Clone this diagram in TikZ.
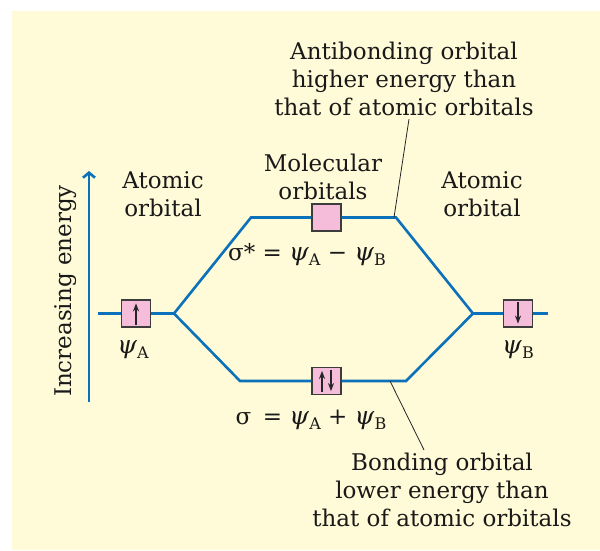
\documentclass[tikz,border=0pt]{standalone}
\usepackage{fontspec}
\setmainfont{DejaVu Serif}
\usetikzlibrary{positioning,arrows.meta}
\definecolor{MOBlue}{HTML}{0A71BA}
\definecolor{MOPink}{HTML}{F5BDD9}
\definecolor{MOPaper}{HTML}{FFFAD7}
\definecolor{MOEdge}{HTML}{3C3C3C}
\newcommand{\orbsub}[1]{\raisebox{-0.4ex}{\fontsize{16}{16}\selectfont #1}}
\newcommand{\orbpsi}{{\fontsize{25}{28}\selectfont\textit{ψ}}}
\begin{document}
\begin{tikzpicture}[x=1pt,y=-1pt,>=stealth,node distance=12pt]
  \tikzstyle{obox}=[draw=MOEdge,fill=MOPink,line width=1.2pt,inner sep=0pt,
    minimum width=29pt,minimum height=27pt]
  \tikzstyle{orbline}=[draw=MOBlue,line width=2.6pt]
  \tikzstyle{spin}=[-{Stealth[length=8pt,width=6pt]},line width=1.4pt,draw=black!85]
  \tikzstyle{lbl}=[font=\fontsize{23}{28}\selectfont,align=center,
    text=black!90,inner sep=0pt]
  \tikzstyle{lead}=[draw=black!85,line width=0.8pt]
  \useasboundingbox (0,0) rectangle (600,550);
  \fill[MOPaper] (12,11) rectangle (600,550);
  % energy axis
  \coordinate (eb) at (89,402);
  \coordinate (et) at (89,171);
  \draw[orbline,-{Straight Barb[length=5pt,width=12pt]}] (eb) -- (et);
  \node[lbl,rotate=90] (en) at (66,291) {Increasing energy};
  % orbital boxes
  \node[obox] (a) at (136,313.5) {};
  \node[obox] (s) at (326.5,217.5) {};
  \node[obox] (bo) at (326.5,381) {};
  \node[obox] (b) at (518,313.5) {};
  \draw[spin] ([yshift=3pt]a.south) -- ([yshift=-4pt]a.north);
  \draw[spin] ([xshift=-4.5pt,yshift=3pt]bo.south) -- ([xshift=-4.5pt,yshift=-4pt]bo.north);
  \draw[spin] ([xshift=4.5pt,yshift=-3pt]bo.north) -- ([xshift=4.5pt,yshift=4pt]bo.south);
  \draw[spin] ([yshift=-3pt]b.north) -- ([yshift=4pt]b.south);
  % energy levels
  \coordinate (la) at (98,313.5);
  \coordinate (ja) at (174,313.5);
  \coordinate (sl) at (251,217.5);
  \coordinate (sr) at (396,217.5);
  \coordinate (bl) at (240,381);
  \coordinate (br) at (406,381);
  \coordinate (jb) at (473,313.5);
  \coordinate (lb) at (548,313.5);
  \draw[orbline] (la) -- (a.west);
  \draw[orbline] (a.east) -- (ja) -- (sl) -- (s.west);
  \draw[orbline] (s.east) -- (sr) -- (jb) -- (b.west);
  \draw[orbline] (b.east) -- (lb);
  \draw[orbline] (ja) -- (bl) -- (bo.west);
  \draw[orbline] (bo.east) -- (br) -- (jb);
  % labels
  \node[lbl] (ala) at (163,194) {Atomic\\orbital};
  \node[lbl] (alb) at (482,194) {Atomic\\orbital};
  \node[lbl] (mol) at (323,177) {Molecular\\orbitals};
  \node[lbl,below=13pt of a,xshift=-3pt] (pa) {\orbpsi\orbsub{A}};
  \node[lbl,below=13pt of b] (pb) {\orbpsi\orbsub{B}};
  \node[lbl] (anti) at (307,255) {σ* = \orbpsi\orbsub{A} − \orbpsi\orbsub{B}};
  \node[lbl] (bond) at (311,420) {σ\enspace = \orbpsi\orbsub{A} + \orbpsi\orbsub{B}};
  \node[lbl] (ab) at (404,79) {Antibonding orbital\\higher energy than\\that of atomic orbitals};
  \node[lbl] (bd) at (442,490) {Bonding orbital\\lower energy than\\that of atomic orbitals};
  \coordinate (at) at (394,217.5);
  \coordinate (bt) at (390,381);
  \draw[lead] ([xshift=5pt,yshift=-3pt]ab.south) -- (at);
  \draw[lead] ([xshift=-18pt,yshift=3pt]bd.north) -- (bt);
\end{tikzpicture}
\end{document}
